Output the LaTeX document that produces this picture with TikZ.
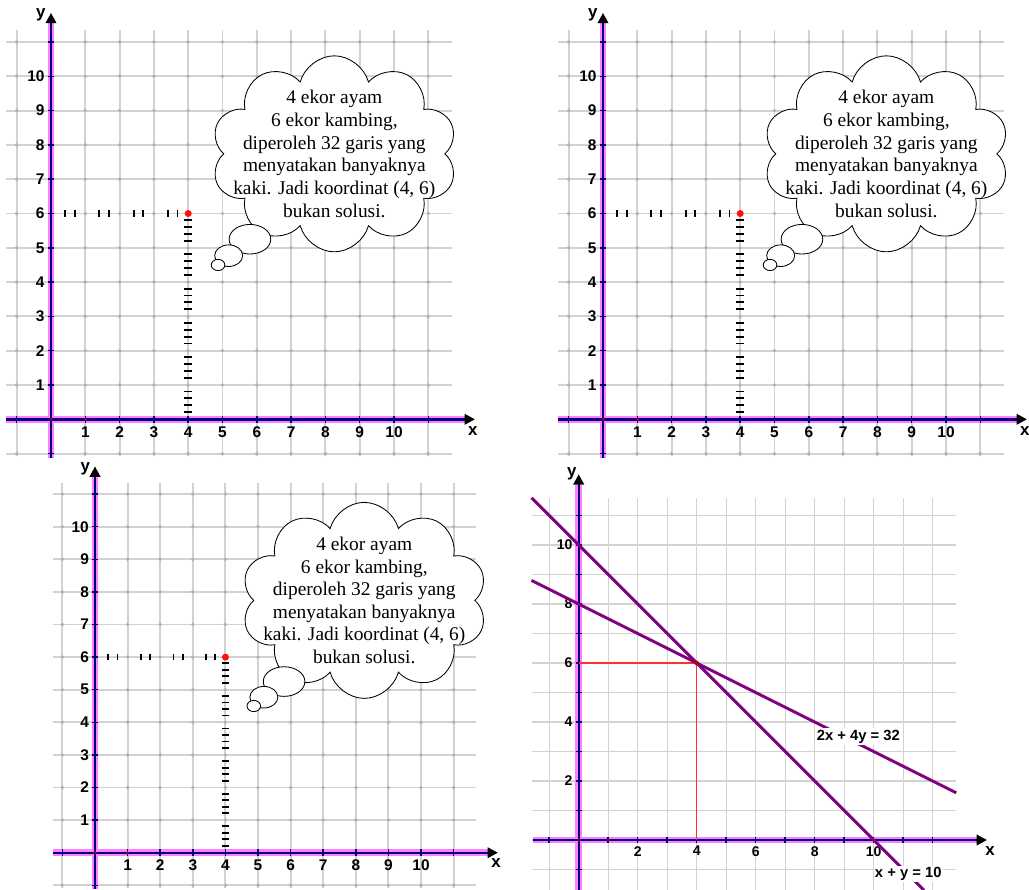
\documentclass[tikz,border=0pt]{standalone}
\usepackage{fontspec}
\setmainfont{Liberation Serif}
\setsansfont{Liberation Sans}
\usetikzlibrary{arrows.meta,shapes.symbols}
\definecolor{GridGray}{HTML}{D2D2D2}
\definecolor{GridDot}{HTML}{B4B4B4}
\definecolor{AxisNavy}{HTML}{000080}
\definecolor{AxisGlow}{HTML}{FF80FF}
\definecolor{PointRed}{HTML}{FF1010}
\definecolor{DotRed}{HTML}{B00000}
\definecolor{HelpRed}{HTML}{FF3030}
\definecolor{LinePurple}{HTML}{800080}
\tikzset{
  gridline/.style={draw=GridGray, line width=1.3pt},
  thingrid/.style={draw=GridGray, line width=.8pt},
  axisglow/.style={draw=AxisGlow, line width=4.6pt, shorten >=2.6mm},
  axisline/.style={draw=AxisNavy, line width=1.7pt, -{Triangle[length=2.6mm,width=2.6mm,color=black]}},
  axistick/.style={draw=AxisNavy, line width=1.1pt},
  tally/.style={draw=black, line width=1.3pt},
  numlab/.style={font=\sffamily\bfseries\fontsize{11}{13}\selectfont, inner sep=0pt},
  smallnum/.style={font=\sffamily\bfseries\fontsize{10}{12}\selectfont, inner sep=0pt},
  axislab/.style={font=\sffamily\bfseries\fontsize{12}{14}\selectfont, inner sep=0pt},
  thought/.style={cloud, cloud puffs=10, cloud ignores aspect, draw=black, fill=white,
    line width=.6pt, minimum width=6.15cm, minimum height=4.9cm},
  bubble/.style={draw=black, fill=white, line width=.6pt},
  notetext/.style={font=\fontsize{13.8}{16.1}\selectfont, align=center, inner sep=0pt},
  solline/.style={draw=LinePurple, line width=2.1pt},
  helpline/.style={draw=HelpRed, line width=.8pt},
  eqlab/.style={font=\sffamily\bfseries\fontsize{10.5}{12}\selectfont, fill=white, inner sep=1pt},
}
% one chart of the chicken and goat legs: origin x, origin y, unit, tag
\newcommand{\legpanel}[4]{%
\begin{scope}[shift={(#1,#2)}, x=#3, y=#3]
  % grid
  \foreach \i in {-1,...,11} {
    \draw[gridline] (\i,-1.08) -- (\i,11.35);
    \draw[gridline] (-1.3,\i) -- (11.7,\i);
  }
  \foreach \i in {-1,...,11}
    \foreach \j in {-1,...,11}
      \fill[GridDot] (\i,\j) circle (1.4pt);
  % axes
  \draw[axisglow] (-1.3,0) -- (12.36,0);
  \draw[axisglow] (0,-1.12) -- (0,11.85);
  \draw[axisline] (-1.3,0) -- (12.36,0);
  \draw[axisline] (0,-1.12) -- (0,11.85);
  \foreach \i in {-1,...,11} {
    \draw[axistick] (\i,-.1) -- (\i,.1);
    \draw[axistick] (-.1,\i) -- (.1,\i);
  }
  \fill[DotRed] (0,0) circle (1.2pt);
  \fill[DotRed] (1,0) circle (1.2pt);
  \foreach \i in {1,...,10} {
    \node[numlab, anchor=north] (xn\i#4) at (\i,-.22) {\i};
    \node[numlab, anchor=east] (yn\i#4) at (-.18,\i) {\i};
  }
  \node[axislab] (xlab#4) at (12.3,-.33) {x};
  \node[axislab] (ylab#4) at (-.3,11.78) {y};
  % legs: 4 chickens along y = 6, 6 goats down x = 4
  \foreach \k in {0,...,3}
    \foreach \d in {.41,.69}
      \draw[tally] (\k+\d,5.9) -- (\k+\d,6.1);
  \foreach \k in {0,...,5}
    \foreach \d in {.21,.41,.61,.81}
      \draw[tally] (3.89,\k+\d) -- (4.11,\k+\d);
  \fill[PointRed] (4,6) circle (2.5pt);
  % thought
  \node[thought] (cloud#4) at (8.26,7.74) {};
  \draw[bubble] (5.8,5.25) ellipse (.52cm and .37cm);
  \draw[bubble] (5.18,4.77) ellipse (.35cm and .27cm);
  \draw[bubble] (4.87,4.5) ellipse (.17cm and .14cm);
  \node[notetext] (note#4) at (cloud#4.center) {4 ekor ayam\\6 ekor kambing,\\diperoleh 32 garis yang\\menyatakan banyaknya\\kaki. Jadi koordinat (4, 6)\\bukan solusi.};
\end{scope}}

\begin{document}
\begin{tikzpicture}
  \useasboundingbox[fill=white] (0,0) rectangle (25.725,-22.225);
  \legpanel{1.275}{-10.4825}{.8575cm}{a}
  \legpanel{15.075}{-10.4825}{.8575cm}{b}
  \legpanel{2.375}{-21.3175}{.815cm}{c}

  % the two lines meeting at (4, 6)
  \begin{scope}[shift={(14.4675,-21)}, x=.7375cm, y=.7375cm]
    \foreach \i in {-1,...,12}
      \draw[thingrid] (\i,-1.7) -- (\i,11.6);
    \foreach \j in {-1,...,11}
      \draw[thingrid] (-1.6,\j) -- (12.8,\j);
    \draw[axisglow] (-1.55,0) -- (13.84,0);
    \draw[axisglow] (0,-1.7) -- (0,12.4);
    \draw[axisline] (-1.55,0) -- (13.84,0);
    \draw[axisline] (0,-1.7) -- (0,12.4);
    \foreach \i in {-1,...,12}
      \draw[axistick] (\i,-.1) -- (\i,.1);
    \foreach \i in {-1,...,11}
      \draw[axistick] (-.1,\i) -- (.1,\i);
    \fill[DotRed] (0,0) circle (1.2pt);
    \fill[DotRed] (1,0) circle (1.2pt);
    \foreach \i in {2,4,...,10} {
      \node[smallnum, anchor=north] (xm\i) at (\i,-.2) {\i};
      \node[smallnum, anchor=east] (ym\i) at (-.2,\i) {\i};
    }
    \node[axislab] (xlabd) at (13.94,-.37) {x};
    \node[axislab] (ylabd) at (-.23,12.43) {y};
    \draw[helpline] (0,6) -- (4,6) -- (4,0);
    \draw[solline] (-1.6,11.6) -- (11.7,-1.7);
    \draw[solline] (-1.6,8.8) -- (12.8,1.6);
    \fill[DotRed] (4,6) circle (1.6pt);
    \node[eqlab] (eqa) at (9.48,3.51) {2x + 4y = 32};
    \node[eqlab] (eqb) at (11.17,-1.16) {x + y = 10};
  \end{scope}
\end{tikzpicture}
\end{document}
